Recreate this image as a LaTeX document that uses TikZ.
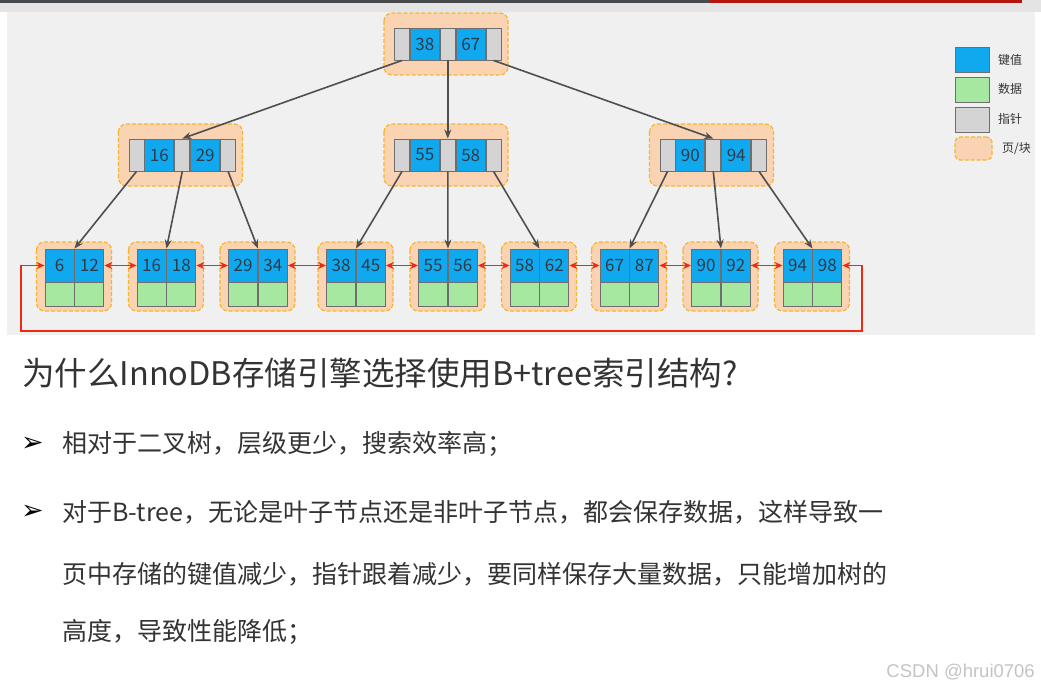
\documentclass[tikz,border=0pt]{standalone}
\usepackage{fontspec}
\setmainfont{Noto Sans CJK SC}
\newfontfamily\symfont{DejaVu Sans}
\newfontfamily\markfont{Liberation Sans}
\usetikzlibrary{arrows.meta, positioning}

\definecolor{keyblue}{HTML}{10A8EE}
\definecolor{datagreen}{HTML}{A6E8A0}
\definecolor{ptrgray}{HTML}{D4D4D4}
\definecolor{pagefill}{HTML}{F9D3B2}
\definecolor{pageedge}{HTML}{F4B630}
\definecolor{cellline}{HTML}{6E6E6E}
\definecolor{treeline}{HTML}{4F4F4F}
\definecolor{linkred}{HTML}{EE2A14}
\definecolor{panelbg}{HTML}{F0F0F0}
\definecolor{stripgray}{HTML}{E4E4E4}
\definecolor{bardark}{HTML}{464A4C}
\definecolor{barred}{HTML}{B5170C}
\definecolor{inktext}{HTML}{333333}
\definecolor{numink}{HTML}{2E3B48}
\definecolor{markgray}{HTML}{C4C4C4}

\tikzset{
    cell/.style={draw=cellline, line width=0.9pt, inner sep=0pt,
        font=\fontsize{17}{17}\selectfont, text=numink},
    ptrcell/.style={cell, fill=ptrgray, minimum width=15pt, minimum height=32pt},
    keycell/.style={cell, fill=keyblue, minimum width=29pt, minimum height=32pt},
    leafkey/.style={cell, fill=keyblue, minimum width=29pt, minimum height=33pt},
    leafdata/.style={cell, fill=datagreen, minimum width=29pt, minimum height=24pt},
    page/.style={draw=pageedge, fill=pagefill, line width=1.2pt,
        dash pattern=on 4pt off 2pt, rounded corners=8pt},
    treeedge/.style={draw=treeline, line width=1.6pt, -{Stealth[length=9pt,width=7pt]}},
    leaflink/.style={draw=linkred, line width=1.8pt,
        {Stealth[length=8pt,width=7pt]}-{Stealth[length=8pt,width=7pt]}},
    legendbox/.style={draw=cellline, line width=0.8pt, minimum width=34pt, minimum height=25pt},
    legendtext/.style={font=\fontsize{12}{12}\selectfont, text=inktext, inner sep=0pt},
    bodytext/.style={anchor=west, inner sep=0pt, text=inktext, font=\fontsize{25}{25}\selectfont},
    bulletmark/.style={anchor=west, inner sep=0pt, text=black, font=\symfont\fontsize{27}{27}\selectfont}
}

% one inner page: name, centre x, centre y, two keys
\newcommand{\InnerPage}[5]{%
    \draw[page] ({#2-62},{#3-31}) rectangle ({#2+62},{#3+31});
    \node[ptrcell] (#1-p1) at ({#2-44},#3) {};
    \node[keycell, right=0pt of #1-p1] (#1-k1) {#4};
    \node[ptrcell, right=0pt of #1-k1] (#1-p2) {};
    \node[keycell, right=0pt of #1-p2] (#1-k2) {#5};
    \node[ptrcell, right=0pt of #1-k2] (#1-p3) {};
}
% one leaf page: name, centre x, two keys
\newcommand{\LeafPage}[4]{%
    \draw[page] ({#2-37.5},242) rectangle ({#2+37.5},311);
    \node[leafkey] (#1-a) at ({#2-14.5},265.5) {#3};
    \node[leafkey, right=0pt of #1-a] (#1-b) {#4};
    \node[leafdata, below=0pt of #1-a] (#1-c) {};
    \node[leafdata, below=0pt of #1-b] (#1-d) {};
}

\begin{document}
\begin{tikzpicture}[x=1pt, y=-1pt]
    \useasboundingbox (0,0) rectangle (1041,690);
    % backdrop
    \fill[white] (0,0) rectangle (1041,690);
    \fill[stripgray] (0,0) rectangle (1041,12);
    \fill[bardark] (0,0) rectangle (710,3);
    \fill[barred] (710,0) rectangle (1022,3);
    \fill[panelbg] (7,12) rectangle (1035,335);

    % tree levels
    \InnerPage{r}{446}{44}{38}{67}
    \InnerPage{m1}{180.5}{155}{16}{29}
    \InnerPage{m2}{446}{155}{55}{58}
    \InnerPage{m3}{711.5}{155}{90}{94}

    \foreach \n/\cx/\ka/\kb in {1/74/6/12, 2/166/16/18, 3/257.5/29/34,
        4/355.5/38/45, 5/447.5/55/56, 6/539/58/62,
        7/629/67/87, 8/720.5/90/92, 9/812/94/98}
        {\LeafPage{l\n}{\cx}{\ka}{\kb}}

    \draw[treeedge] (r-p1.south) -- (m1-p2.north);
    \draw[treeedge] (r-p2.south) -- (m2-p2.north);
    \draw[treeedge] (r-p3.south) -- (m3-p2.north);
    \draw[treeedge] (m1-p1.south) -- (l1-a.north east);
    \draw[treeedge] (m1-p2.south) -- (l2-a.north east);
    \draw[treeedge] (m1-p3.south) -- (l3-a.north east);
    \draw[treeedge] (m2-p1.south) -- (l4-a.north east);
    \draw[treeedge] (m2-p2.south) -- (l5-a.north east);
    \draw[treeedge] (m2-p3.south) -- (l6-a.north east);
    \draw[treeedge] (m3-p1.south) -- (l7-a.north east);
    \draw[treeedge] (m3-p2.south) -- (l8-a.north east);
    \draw[treeedge] (m3-p3.south) -- (l9-a.north east);

    % leaf chain
    \foreach \a [evaluate=\a as \b using int(\a+1)] in {1,...,8}
        \draw[leaflink] (l\a-b.east) -- (l\b-a.west);
    \coordinate (ret-r) at (862,331);
    \coordinate (ret-l) at (21,331);
    \draw[leaflink] (l9-b.east) -| (ret-r) -- (ret-l) |- (l1-a.west);

    % legend
    \node[legendbox, fill=keyblue] (lg-key) at (972,59.5) {};
    \node[legendbox, fill=datagreen] (lg-data) at (972,90) {};
    \node[legendbox, fill=ptrgray] (lg-ptr) at (972,119.5) {};
    \node[page, minimum width=37pt, minimum height=23pt, rounded corners=5pt] (lg-page) at (973.5,148.5) {};
    \node[legendtext, anchor=west] at (998,59.5) {键值};
    \node[legendtext, anchor=west] at (998,89) {数据};
    \node[legendtext, anchor=west] at (998,119) {指针};
    \node[legendtext, anchor=west] at (1002,148.5) {页/块};

    % text below
    \node[anchor=west, inner sep=0pt, text=inktext, font=\fontsize{32.5}{32.5}\selectfont]
        (title) at (22,373) {为什么InnoDB存储引擎选择使用B+tree索引结构?};
    \node[bulletmark] (b1) at (21,444) {➢};
    \node[bodytext] (t1) at (62,444) {相对于二叉树，层级更少，搜索效率高；};
    \node[bulletmark] (b2) at (21,512) {➢};
    \node[bodytext] (t2) at (62,512) {对于B-tree，无论是叶子节点还是非叶子节点，都会保存数据，这样导致一};
    \node[bodytext] (t3) at (62,574) {页中存储的键值减少，指针跟着减少，要同样保存大量数据，只能增加树的};
    \node[bodytext] (t4) at (62,632) {高度，导致性能降低；};

    \node[anchor=east, inner sep=0pt, text=markgray, font=\markfont\fontsize{18.5}{18.5}\selectfont]
        (mark) at (1035,672) {CSDN @hrui0706};
\end{tikzpicture}
\end{document}
